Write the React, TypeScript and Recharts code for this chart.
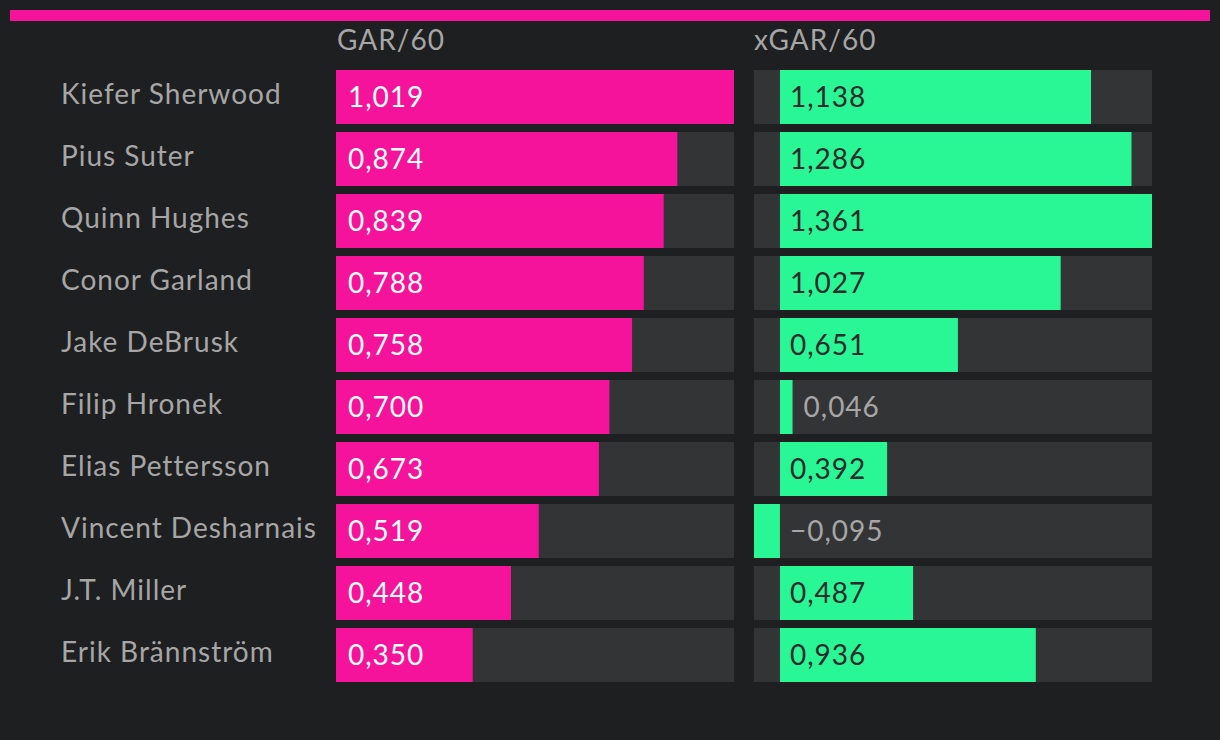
import React from "react";
import { BarChart, Bar, XAxis, YAxis, LabelList } from "recharts";

const players = [
  "Kiefer Sherwood",
  "Pius Suter",
  "Quinn Hughes",
  "Conor Garland",
  "Jake DeBrusk",
  "Filip Hronek",
  "Elias Pettersson",
  "Vincent Desharnais",
  "J.T. Miller",
  "Erik Brännström",
];
const gar60 = [1.019, 0.874, 0.839, 0.788, 0.758, 0.7, 0.673, 0.519, 0.448, 0.35];
const xgar60 = [1.138, 1.286, 1.361, 1.027, 0.651, 0.046, 0.392, -0.095, 0.487, 0.936];
const headers = ["GAR/60", "xGAR/60"];

const BG = "#1e1f21";
const PINK = "#f5139b";
const GREEN = "#29f795";
const TRACK = "#333436";
const MUTED = "#a6a6a6";
const FONT = "Lato, 'Noto Sans', sans-serif";
const FS = 28;
const LS = 1;

const rows = players.map((name, i) => ({ name, gar: gar60[i], xgar: xgar60[i] }));

const fmt = (v: number) => {
  const s = Math.abs(v).toFixed(3).replace(".", ",");
  return v < 0 ? "\u2212" + s : s;
};

function NameTick(props: any) {
  const { y, payload } = props;
  return (
    <text x={61} y={y - 4} dominantBaseline="central" textAnchor="start" fill={MUTED} fontSize={FS} fontFamily={FONT} letterSpacing={LS}>
      {payload.value}
    </text>
  );
}

function GarLabel(props: any) {
  const { x, y, height, value } = props;
  return (
    <text x={x + 12} y={y + height / 2 - 1.5} dominantBaseline="central" fill="#ffffff" fontSize={FS} fontFamily={FONT} letterSpacing={LS}>
      {fmt(value)}
    </text>
  );
}

function XgarLabel(props: any) {
  const { x, y, width, height, value } = props;
  const left = Math.min(x, x + width);
  const right = Math.max(x, x + width);
  const cy = y + height / 2 - 1.5;
  let tx: number;
  let fill: string;
  if (value < 0) {
    tx = right + 10;
    fill = MUTED;
  } else if (right - left < 80) {
    tx = right + 11;
    fill = MUTED;
  } else {
    tx = left + 10;
    fill = "#2a2b2c";
  }
  return (
    <text x={tx} y={cy} dominantBaseline="central" fill={fill} fontSize={FS} fontFamily={FONT} letterSpacing={LS}>
      {fmt(value)}
    </text>
  );
}

export default function App() {
  const garMax = Math.max(...gar60);
  const xMin = Math.min(0, ...xgar60);
  const xMax = Math.max(...xgar60);
  const margin = { top: 66, right: 0, bottom: 54, left: 0 };
  const headStyle: React.CSSProperties = { position: "absolute", top: 23, fontSize: FS, color: MUTED, lineHeight: "32px", letterSpacing: LS };

  return (
    <div style={{ position: "relative", width: 1220, height: 740, background: BG, fontFamily: FONT, overflow: "hidden" }}>
      <style>{`body{margin:0;background:${BG}}`}</style>
      <div style={{ position: "absolute", left: 10, top: 10, width: 1200, height: 11, background: PINK }} />
      <div style={{ ...headStyle, left: 337 }}>{headers[0]}</div>
      <div style={{ ...headStyle, left: 754 }}>{headers[1]}</div>

      <div style={{ position: "absolute", left: 0, top: 0 }}>
        <BarChart width={734} height={740} data={rows} layout="vertical" margin={margin}>
          <XAxis type="number" domain={[0, garMax]} hide />
          <YAxis type="category" dataKey="name" width={336} axisLine={false} tickLine={false} tick={<NameTick />} interval={0} />
          <Bar dataKey="gar" fill={PINK} barSize={54} background={{ fill: TRACK }} isAnimationActive={false}>
            <LabelList dataKey="gar" content={<GarLabel />} />
          </Bar>
        </BarChart>
      </div>

      <div style={{ position: "absolute", left: 754, top: 0 }}>
        <BarChart width={398} height={740} data={rows} layout="vertical" margin={margin}>
          <XAxis type="number" domain={[xMin, xMax]} hide />
          <YAxis type="category" dataKey="name" hide />
          <Bar dataKey="xgar" fill={GREEN} barSize={54} background={{ fill: TRACK }} isAnimationActive={false}>
            <LabelList dataKey="xgar" content={<XgarLabel />} />
          </Bar>
        </BarChart>
      </div>
    </div>
  );
}
